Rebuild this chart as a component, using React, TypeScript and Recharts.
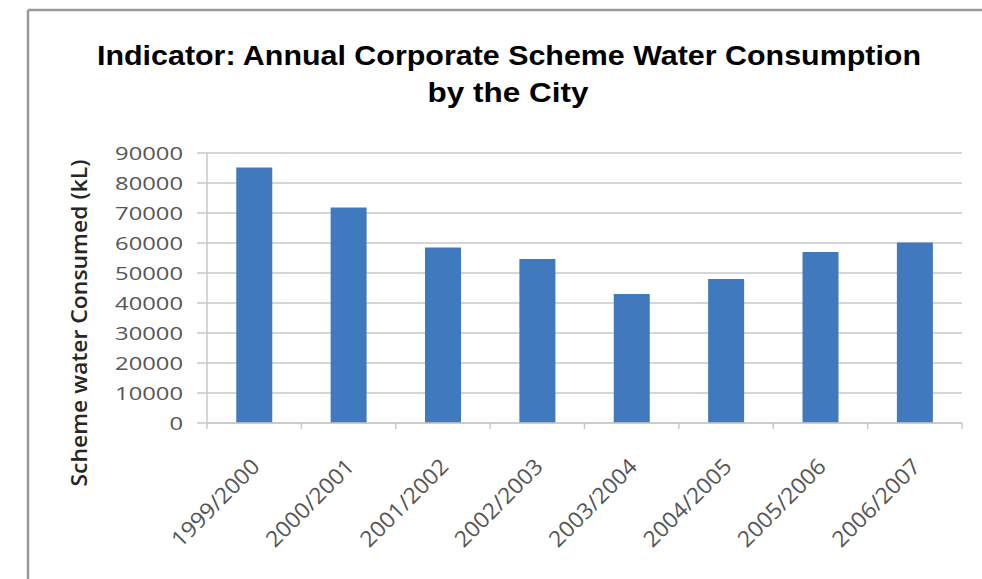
import React from 'react';
import { BarChart, Bar, XAxis, YAxis, CartesianGrid } from 'recharts';

const categories = ['1999/2000', '2000/2001', '2001/2002', '2002/2003', '2003/2004', '2004/2005', '2005/2006', '2006/2007'];
const consumption = [85200, 71800, 58500, 54700, 43000, 48000, 57000, 60200];
const yTicks = [0, 10000, 20000, 30000, 40000, 50000, 60000, 70000, 80000, 90000];
const titleLines = ['Indicator: Annual Corporate Scheme Water Consumption', 'by the City'];
const yLabel = 'Scheme water Consumed (kL)';

const data = categories.map((c) => ({ year: c, value: consumption[categories.indexOf(c)] }));

const W = 982;
const H = 579;
const GRID = '#c8c8c8';
const TICK_COLOR = '#555555';
const FONT = '"Open Sans", sans-serif';

const YTick = (props: any) => {
  const { x, y, payload } = props;
  return (
    <g transform={`translate(${x - 12},${y}) scale(1.25,1)`}>
      <text x={0} y={0} dy="0.36em" textAnchor="end" fill={TICK_COLOR} fontSize={19} fontFamily={FONT}>
        {payload.value}
      </text>
    </g>
  );
};

const XTick = (props: any) => {
  const { x, y, payload, index, width } = props;
  const half = width / categories.length / 2;
  const axisY = y;
  return (
    <g>
      <line x1={x - half} y1={axisY} x2={x - half} y2={axisY + 6} stroke={GRID} strokeWidth={1.5} />
      {index === categories.length - 1 ? (
        <line x1={x + half} y1={axisY} x2={x + half} y2={axisY + 6} stroke={GRID} strokeWidth={1.5} />
      ) : null}
      <g transform={`translate(${x + 7},${axisY + 45})`}>
        <text
          x={0}
          y={0}
          textAnchor="end"
          transform="rotate(-45)"
          fill={TICK_COLOR}
          fontSize={22}
          fontFamily={FONT}
          textLength={114}
          lengthAdjust="spacingAndGlyphs"
        >
          {payload.value}
        </text>
      </g>
    </g>
  );
};

export default function App() {
  return (
    <div style={{ position: 'absolute', left: 0, top: 0, width: W, height: H, background: '#ffffff' }}>
      <BarChart
        width={W}
        height={H}
        data={data}
        margin={{ top: 153, right: 20, bottom: 0, left: 0 }}
        barCategoryGap="31%"
      >
        <CartesianGrid vertical={false} stroke={GRID} strokeWidth={1.5} />
        <XAxis
          dataKey="year"
          height={156}
          axisLine={{ stroke: GRID, strokeWidth: 1.5 }}
          tickLine={false}
          tickSize={0}
          tickMargin={0}
          tick={<XTick />}
          interval={0}
        />
        <YAxis
          width={207}
          domain={[0, 90000]}
          ticks={yTicks}
          interval={0}
          axisLine={{ stroke: GRID, strokeWidth: 1.5 }}
          tickLine={{ stroke: GRID, strokeWidth: 1.5 }}
          tickSize={10}
          tick={<YTick />}
        />
        <Bar dataKey="value" fill="#4079be" isAnimationActive={false} />
      </BarChart>
      <svg width={W} height={H} style={{ position: 'absolute', left: 0, top: 0, pointerEvents: 'none' }}>
        <line x1={28} y1={10} x2={28} y2={H} stroke="#9a9a9a" strokeWidth={2.5} />
        <line x1={28} y1={10} x2={W} y2={10} stroke="#9a9a9a" strokeWidth={2.5} />
        <text
          x={509}
          y={65}
          textAnchor="middle"
          fontFamily='"Liberation Sans", Arial, sans-serif'
          fontWeight="bold"
          fontSize={27}
          fill="#000000"
          textLength={824}
          lengthAdjust="spacingAndGlyphs"
        >
          {titleLines[0]}
        </text>
        <text
          x={508}
          y={102}
          textAnchor="middle"
          fontFamily='"Liberation Sans", Arial, sans-serif'
          fontWeight="bold"
          fontSize={27}
          fill="#000000"
          textLength={161}
          lengthAdjust="spacingAndGlyphs"
        >
          {titleLines[1]}
        </text>
        <text
          x={0}
          y={0}
          transform="translate(87,323) rotate(-90)"
          textAnchor="middle"
          fontFamily={FONT}
          fontWeight={600}
          fontSize={21}
          fill="#262626"
          textLength={327}
          lengthAdjust="spacingAndGlyphs"
        >
          {yLabel}
        </text>
      </svg>
    </div>
  );
}
